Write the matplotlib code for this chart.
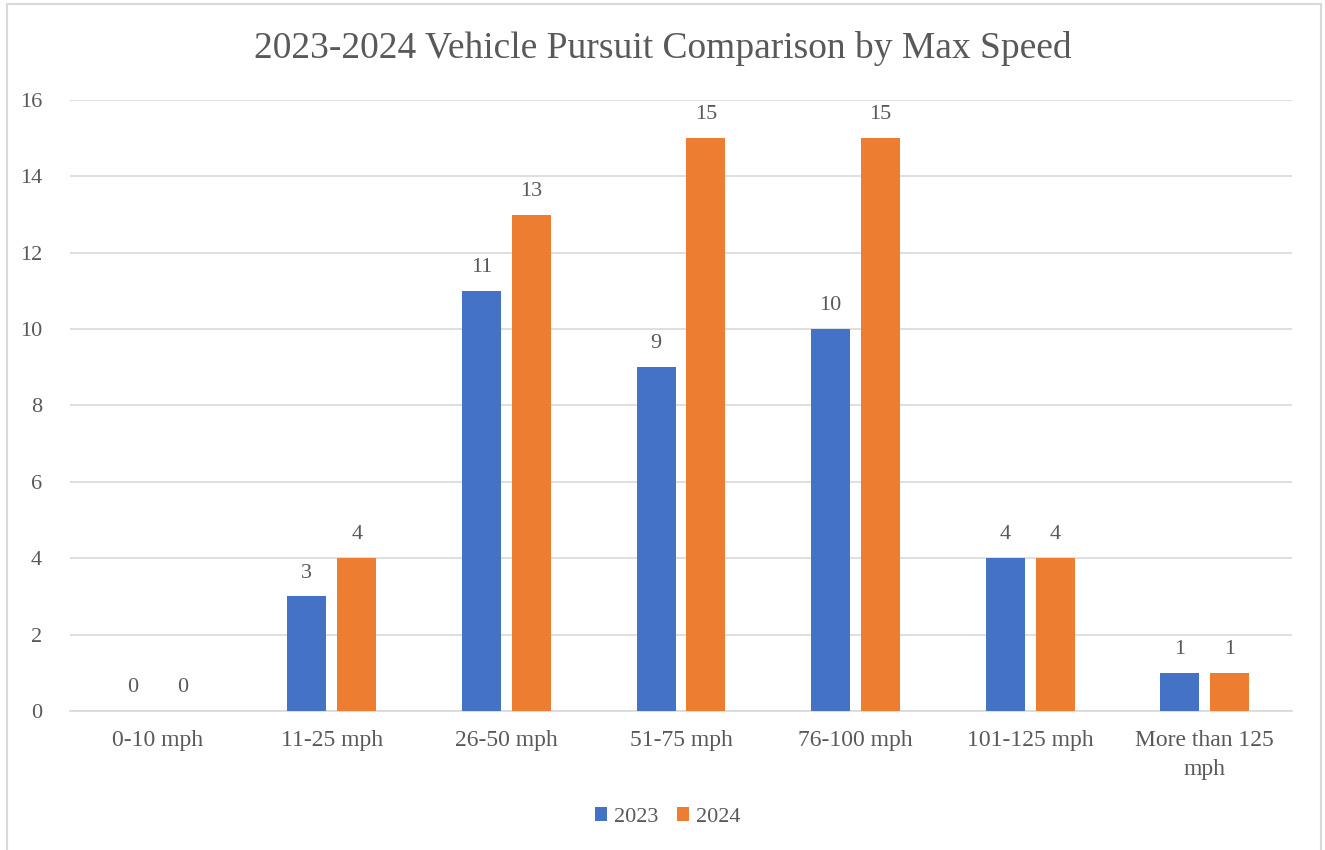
import matplotlib
matplotlib.use("Agg")
import matplotlib.pyplot as plt
import numpy as np
from matplotlib.patches import Rectangle

categories = ["0-10 mph", "11-25 mph", "26-50 mph", "51-75 mph", "76-100 mph", "101-125 mph", "More than 125\nmph"]
series_2023 = [0, 3, 11, 9, 10, 4, 1]
series_2024 = [0, 4, 13, 15, 15, 4, 1]
yticks = [0, 2, 4, 6, 8, 10, 12, 14, 16]

plt.rcParams['font.family'] = ['Liberation Serif', 'DejaVu Serif']
TXT = "#595959"
GRID = "#d9d9d9"
C1 = "#4472c4"
C2 = "#ed7d31"

W, H = 1325, 850
fig = plt.figure(figsize=(W / 100, H / 100), dpi=100)
fig.patches.append(Rectangle((7 / W, -0.01), (1321 - 7) / W, 1 - 4 / H + 0.01,
                             transform=fig.transFigure, fill=False,
                             edgecolor=GRID, linewidth=1.5))

ax = fig.add_axes([70 / W, 1 - 711 / H, (1292 - 70) / W, (711 - 100) / H])
x = np.arange(len(categories))
bw = 0.223
off = 0.143
b1 = ax.bar(x - off, series_2023, bw, color=C1, label="2023", zorder=3)
b2 = ax.bar(x + off, series_2024, bw, color=C2, label="2024", zorder=3)
for bars in (b1, b2):
    ax.bar_label(bars, padding=10, fontsize=16, color=TXT)

ax.set_xlim(-0.5, len(categories) - 0.5)
ax.set_ylim(0, 16)
ax.set_yticks(yticks)
ax.set_yticklabels([str(t) for t in yticks])
ax.set_xticks(x)
ax.set_xticklabels(categories, linespacing=1.45)
ax.tick_params(axis='y', length=0, pad=20, labelsize=16, labelcolor=TXT)
ax.tick_params(axis='x', length=0, pad=14, labelsize=17, labelcolor=TXT)
ax.grid(axis='y', color=GRID, linewidth=1.2, zorder=0)
for s in ["top", "right", "left"]:
    ax.spines[s].set_visible(False)
ax.spines["bottom"].set_color(GRID)
ax.spines["bottom"].set_linewidth(1.2)

fig.text(663 / W, 1 - 48 / H, "2023-2024 Vehicle Pursuit Comparison by Max Speed",
         ha="center", va="center", fontsize=27, color=TXT)

fig.legend(handles=[b1, b2], labels=["2023", "2024"], loc="center",
           bbox_to_anchor=(668 / W, 1 - 817 / H), ncol=2, frameon=False,
           fontsize=16, labelcolor=TXT, handlelength=0.54, handleheight=0.54,
           handletextpad=0.3, columnspacing=0.85)

fig.savefig("out.png", dpi=100)
